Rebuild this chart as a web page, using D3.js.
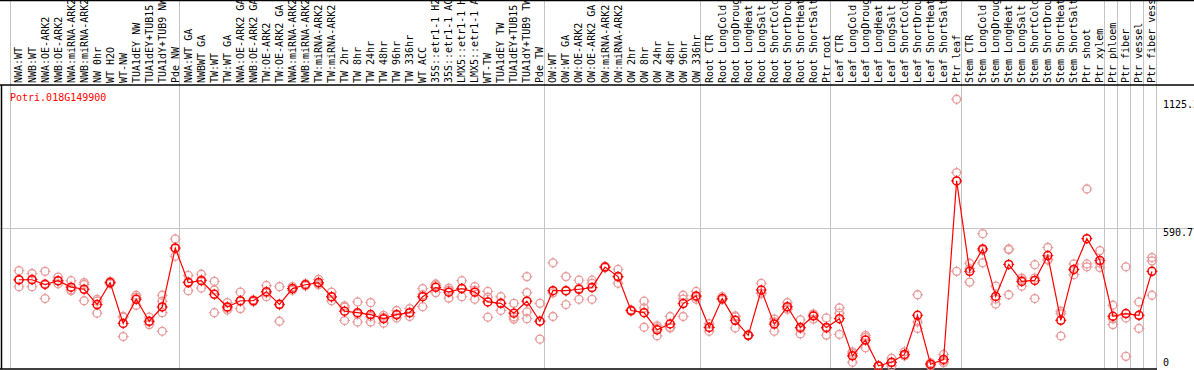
<!DOCTYPE html>
<meta charset="utf-8">
<style>
    body { margin: 0; background: #fff; }
    text { font-family: "DejaVu Sans Mono", monospace; font-size: 10px; }
    .grid { stroke: #c4c4c4; stroke-width: 1px; }
    .frame { stroke: #000; stroke-width: 1.5px; }
</style>
<title>Potri.018G149900</title>
<body>
<script src="https://d3js.org/d3.v7.min.js"></script>
<script>
    const gene = "Potri.018G149900";

    const samples = [
        "NWA:WT","NWB:WT","NWA:OE-ARK2","NWB:OE-ARK2","NWA:miRNA-ARK2","NWB:miRNA-ARK2","NW 0hr","WT H2O","WT-NW",
        "TUA1dEY NW","TUA1dEY+TUB15 NW","TUA1dY+TUB9 NW","Pde NW",
        "NWA:WT GA","NWBWT GA","TW:WT","TW:WT GA","NWA:OE-ARK2 GA","NWB:OE-ARK2 GA","TW:OE-ARK2","TW:OE-ARK2 GA",
        "NWA:miRNA-ARK2 GA","NWB:miRNA-ARK2 GA","TW:miRNA-ARK2","TW:miRNA-ARK2","TW 2hr","TW 8hr","TW 24hr","TW 48hr",
        "TW 96hr","TW 336hr","WT ACC","35S::etr1-1 H2O","35S::etr1-1 ACC","LMX5::etr1-1 H2O","LMX5::etr1-1 ACC","WT-TW",
        "TUA1dEY TW","TUA1dEY+TUB15 TW","TUA1dY+TUB9 TW","Pde TW",
        "OW:WT","OW:WT GA","OW:OE-ARK2","OW:OE-ARK2 GA","OW:miRNA-ARK2","OW:miRNA-ARK2","OW 2hr","OW 8hr","OW 24hr",
        "OW 48hr","OW 96hr","OW 336hr",
        "Root CTR","Root LongCold","Root LongDrought","Root LongHeat","Root LongSalt","Root ShortCold","Root ShortDrought",
        "Root ShortHeat","Root ShortSalt","Ptr root",
        "Leaf CTR","Leaf LongCold","Leaf LongDrought","Leaf LongHeat","Leaf LongSalt","Leaf ShortCold","Leaf ShortDrought",
        "Leaf ShortHeat","Leaf ShortSalt","Ptr leaf",
        "Stem CTR","Stem LongCold","Stem LongDrought","Stem LongHeat","Stem LongSalt","Stem ShortCold","Stem ShortDrought",
        "Stem ShortHeat","Stem ShortSalt","Ptr shoot","Ptr xylem",
        "Ptr phloem","Ptr fiber","Ptr vessel","Ptr fiber vessel"
    ];

    // number of samples in each block between the grey separators
    const groupSizes = [13, 28, 12, 10, 10, 11, 1, 1, 1, 1];

    const means = [
        374,374,354,370,343,334,270,362,191,292,200,260,507,
        362,370,313,260,286,286,324,271,337,353,362,303,242,236,228,211,228,236,303,342,322,337,322,281,275,234,284,200,
        328,328,334,341,427,387,245,236,164,189,274,306,
        174,295,204,141,331,188,261,174,222,174,
        211,55,121,13,28,61,225,20,40,788,
        409,503,304,438,367,371,475,204,417,546,455,
        221,232,225,409
    ];

    const replicates = [
        [412,345,372],[400,345,376],[409,295,358],[385,357,368],[370,328,332],[362,286,354],[292,234,284],[357,362,367],
        [220,136,217],[309,267,300],[217,186,197],[309,284,236,158],[545,472,504],
        [392,328,366],[397,339,374],[367,331,236],[278,247,255],[322,253,283],[286,290,282],[350,303,319],[345,200,268],
        [345,330,337],[353,358,348],[375,353,358],[322,286,301],[264,203,259],[281,197,230],[278,197,220],[225,192,216],
        [245,214,225],[253,220,235],[337,261,311],[356,320,350],[339,297,330],[370,303,338],[345,292,329],[325,217,301],
        [303,245,277],[275,209,218],[387,320,239,211],[275,125,200],
        [445,220,319],[387,270,327],[372,292,338],[372,292,359],[427,430,424],[417,359,385],[245,248,242],[284,256,175],
        [181,139,172],[220,175,172],[309,220,293],[325,292,301],
        [158,174,190],[303,291,291],[222,172,218],[141,143,139],[359,317,317],[209,158,197],[278,250,255],[206,147,169],
        [231,209,226],[214,142,170],
        [256,234,145],[72,28,65],[133,89,141],[13,15,11],[45,13,26],[72,55,56],[311,170,197],[26,13,21],[61,26,33],
        [1130,823,409],
        [443,364,420],[567,445,497],[347,272,293],[500,311,503],[381,347,373],[437,295,381],[509,456,460],[242,138,232],
        [440,395,416],[754,440,428],[496,425,444],
        [267,186,210],[428,53,214],[281,170,224],[467,453,309]
    ];

    const yTicks = [
        {value: 1125.3, label: "1125.3"},
        {value: 590.7, label: "590.7"},
        {value: 0, label: "0"}
    ];

    const width = 1194, height = 370;
    const headerBottom = 85, plotBottom = 369, plotLeft = 10, plotRight = 1156;

    let svg = d3.select('body').append('svg')
        .attr('width', width)
        .attr('height', height);

    let x = d3.scaleLinear()
        .domain([0, samples.length])
        .range([plotLeft, plotRight]);
    const cx = i => x(i + 0.69);

    let y = d3.scaleLinear()
        .domain([0, 590.7])
        .range([plotBottom, 228]);

    // separators between sample blocks
    let bounds = [0];
    groupSizes.forEach(n => bounds.push(bounds[bounds.length - 1] + n));

    svg.append('g')
        .selectAll('line')
        .data(bounds)
        .enter().append('line')
        .attr('class', 'grid')
        .attr('x1', d => Math.round(x(d)) + 0.5)
        .attr('x2', d => Math.round(x(d)) + 0.5)
        .attr('y1', 0)
        .attr('y2', plotBottom);

    svg.append('line')
        .attr('class', 'grid')
        .attr('x1', 0).attr('x2', width)
        .attr('y1', Math.round(y(590.7)) + 0.5)
        .attr('y2', Math.round(y(590.7)) + 0.5);

    // frame
    svg.append('line').attr('class', 'frame')
        .attr('x1', 0).attr('x2', width).attr('y1', 0.5).attr('y2', 0.5);
    svg.append('line').attr('class', 'frame')
        .attr('x1', 0).attr('x2', width).attr('y1', headerBottom).attr('y2', headerBottom);
    svg.append('line').attr('class', 'frame')
        .attr('x1', 0).attr('x2', plotRight + 1).attr('y1', plotBottom).attr('y2', plotBottom);
    svg.append('line').attr('class', 'frame')
        .attr('x1', 1.5).attr('x2', 1.5).attr('y1', headerBottom).attr('y2', plotBottom);

    // sample names, rotated
    svg.append('g')
        .selectAll('text')
        .data(samples)
        .enter().append('text')
        .attr('transform', (d, i) => `translate(${cx(i) + 3.5},${headerBottom - 2}) rotate(-90)`)
        .text(d => d);

    svg.append('text')
        .attr('x', 10)
        .attr('y', 101)
        .attr('fill', '#f00')
        .text(gene);

    // right value labels
    svg.append('g')
        .selectAll('text')
        .data(yTicks)
        .enter().append('text')
        .attr('x', 1163)
        .attr('y', d => d.value === 0 ? y(0) - 3 : y(d.value) + 8)
        .text(d => d.label);

    const ticks = r => `M${-r - 1.5},0H${-r + 1}M${r - 1},0H${r + 1.5}M0,${-r - 1.5}V${-r + 1}M0,${r - 1}V${r + 1.5}`;

    // replicate points
    let reps = [];
    replicates.forEach((vals, i) => vals.forEach(v => reps.push({i: i, v: v})));

    let repG = svg.append('g')
        .selectAll('g')
        .data(reps)
        .enter().append('g')
        .attr('transform', d => `translate(${cx(d.i)},${y(d.v)})`)
        .attr('stroke', '#e99a9a')
        .attr('fill', 'none')
        .attr('stroke-width', 1.3);
    repG.append('circle').attr('r', 4);
    repG.append('path').attr('d', ticks(4)).attr('stroke-width', 1);

    // mean line
    let line = d3.line()
        .x((d, i) => cx(i))
        .y(d => y(d));

    svg.append('path')
        .datum(means)
        .attr('d', line)
        .attr('fill', 'none')
        .attr('stroke', '#f00')
        .attr('stroke-width', 1.2);

    let meanG = svg.append('g')
        .selectAll('g')
        .data(means)
        .enter().append('g')
        .attr('transform', (d, i) => `translate(${cx(i)},${y(d)})`)
        .attr('stroke', '#f00')
        .attr('fill', 'none')
        .attr('stroke-width', 1.5);
    meanG.append('circle').attr('r', 4);
    meanG.append('path').attr('d', ticks(4)).attr('stroke-width', 1);
</script>
</body>
